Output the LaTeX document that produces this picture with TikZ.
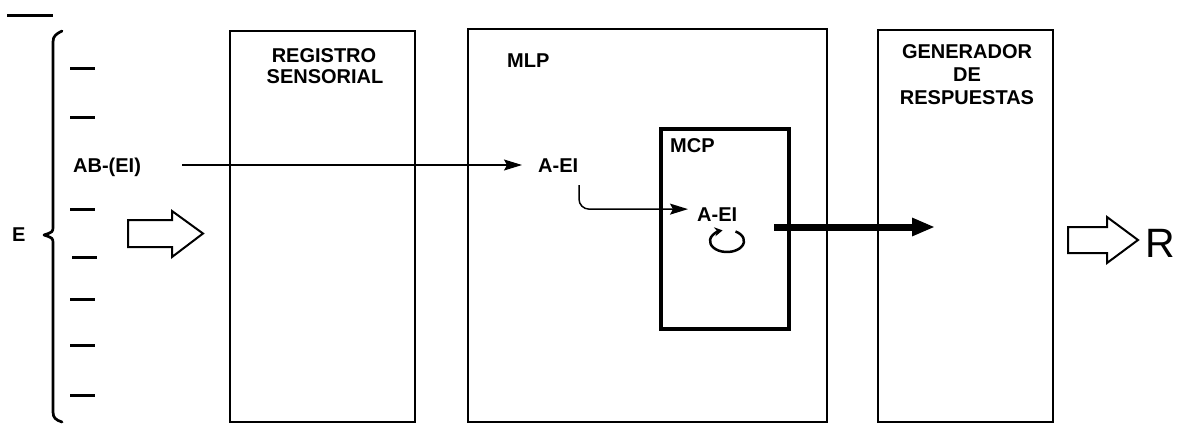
\documentclass[tikz,border=0pt]{standalone}
\usepackage{fontspec}
\setmainfont{Liberation Sans}
\usetikzlibrary{arrows.meta,calc}
\begin{document}
\begin{tikzpicture}[x=1pt,y=-1pt,
  box/.style={draw, inner sep=0pt, anchor=north west},
  lbl/.style={font=\fontsize{20}{22}\selectfont\bfseries, inner sep=0pt, anchor=base west},
  lblc/.style={lbl, anchor=base},
  tickmark/.style={line width=3pt},
  thinarr/.style={line width=1.2pt, -{Stealth[length=18pt,width=11pt,inset=3pt]}},
  thickarr/.style={line width=7pt, -{Triangle[length=23pt,width=17pt]}},
  hollow/.style={draw, line width=2pt, line join=miter}]
\useasboundingbox (0,0) rectangle (1179,424);

% boxes
\node[box, line width=2pt, minimum width=185pt, minimum height=391pt] (rsbox) at (229,30) {};
\node[box, line width=1.6pt, minimum width=359pt, minimum height=393pt] (mlpbox) at (467,28) {};
\node[box, line width=4pt, minimum width=128pt, minimum height=200pt] (mcpbox) at (659,127) {};
\node[box, line width=2pt, minimum width=175pt, minimum height=392pt] (genbox) at (877,29) {};

% box titles
\node[lblc] (rs1) at (324,62) {REGISTRO};
\node[lblc] (rs2) at (325,83) {SENSORIAL};
\node[lbl] (mlp) at (507,67) {MLP};
\node[lbl] (mcp) at (670,152) {MCP};
\node[lblc] (gr1) at (967,58) {GENERADOR};
\node[lblc] (gr2) at (967,81) {DE};
\node[lblc] (gr3) at (967,104) {RESPUESTAS};

% inner labels
\node[lbl] (abei) at (73,172) {AB-(EI)};
\node[lbl] (aei1) at (538,172) {A-EI};
\node[lbl] (aei2) at (697,221) {A-EI};
\node[lbl] (E) at (12,241) {E};
\node[font=\fontsize{41}{44}\selectfont, inner sep=0pt, anchor=base west] (R) at (1145,257) {R};

% top-left line and brace
\draw[line width=3pt] (7,15) -- (53,15);
\draw[line width=2.7pt, line cap=round, line join=round]
  (62,31) .. controls (56,34) and (53,36) .. (53,42) -- (53,226)
  .. controls (53,232) .. (44,235) .. controls (53,238) .. (53,244)
  -- (53,412) .. controls (53,418) and (56,420) .. (62,422);

% ticks
\foreach \yy in {68,117,209,299,345,395} \draw[tickmark] (70,\yy) -- (95,\yy);
\draw[tickmark] (72,257) -- (97,257);

% hollow arrows
\draw[hollow] (128,220) -- (172,220) -- (172,211) -- (203,233.5) -- (172,257) -- (172,247) -- (128,247) -- cycle;
\draw[hollow] (1068,227) -- (1107,227) -- (1107,217) -- (1138,240) -- (1107,263) -- (1107,253) -- (1068,253) -- cycle;

% connectors
\coordinate (s1) at (182,165);
\draw[thinarr, shorten >=16pt] (s1) -- (s1 -| aei1.west);
\coordinate (s2) at (579,185);
\draw[thinarr, line width=1.5pt, rounded corners=10pt] (s2) |- ($(aei2.west)+(-9,-5)$);
\draw[thickarr] ($(mcpbox.east)+(-17,-2)$) -- ($(genbox.west |- mcpbox.east)+(58,-2)$);

% loop arrow
\begin{scope}[shift={(727,241)}, yscale=-1]
  \draw[line width=2.5pt, -{Stealth[length=8pt,width=9pt]}]
    (60:17 and 11) arc[start angle=60, end angle=-255, x radius=17, y radius=11];
\end{scope}
\end{tikzpicture}
\end{document}
